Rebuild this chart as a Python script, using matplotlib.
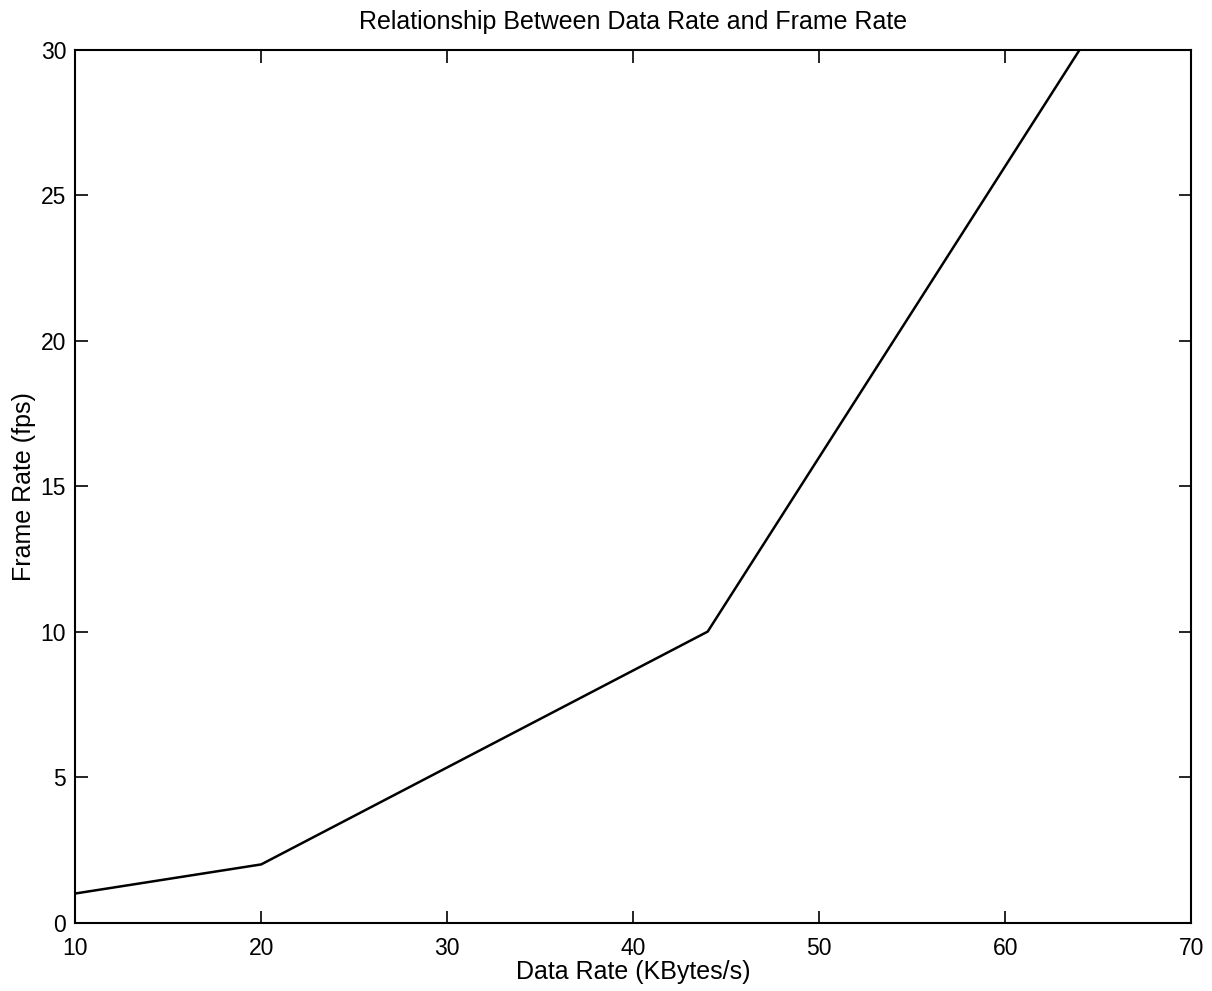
import matplotlib
matplotlib.use('Agg')
import matplotlib.pyplot as plt

# data
data_rate = [10, 20, 44, 64]      # KBytes/s
frame_rate = [1, 2, 10, 30]       # fps
x_ticks = [10, 20, 30, 40, 50, 60, 70]
y_ticks = [0, 5, 10, 15, 20, 25, 30]

plt.rcParams['font.family'] = ['Liberation Sans', 'DejaVu Sans']

fig = plt.figure(figsize=(12.12, 9.91), dpi=100)
ax = fig.add_axes([0.062, 0.069, 0.921, 0.881])

ax.plot(data_rate, frame_rate, color='black', lw=1.8)

ax.set_xlim(10, 70)
ax.set_ylim(0, 30)
ax.set_xticks(x_ticks)
ax.set_yticks(y_ticks)
ax.tick_params(direction='in', length=9, width=1.2, top=True, right=True,
               labelsize=16.5, colors='black')
ax.tick_params(axis='x', pad=10)
ax.tick_params(axis='y', pad=6.5)
for s in ax.spines.values():
    s.set_linewidth(1.5)

ax.set_title('Relationship Between Data Rate and Frame Rate', fontsize=18, pad=15)
ax.set_xlabel('Data Rate (KBytes/s)', fontsize=18, labelpad=0)
ax.set_ylabel('Frame Rate (fps)', fontsize=18, labelpad=3)

fig.savefig('out.png', dpi=100)
